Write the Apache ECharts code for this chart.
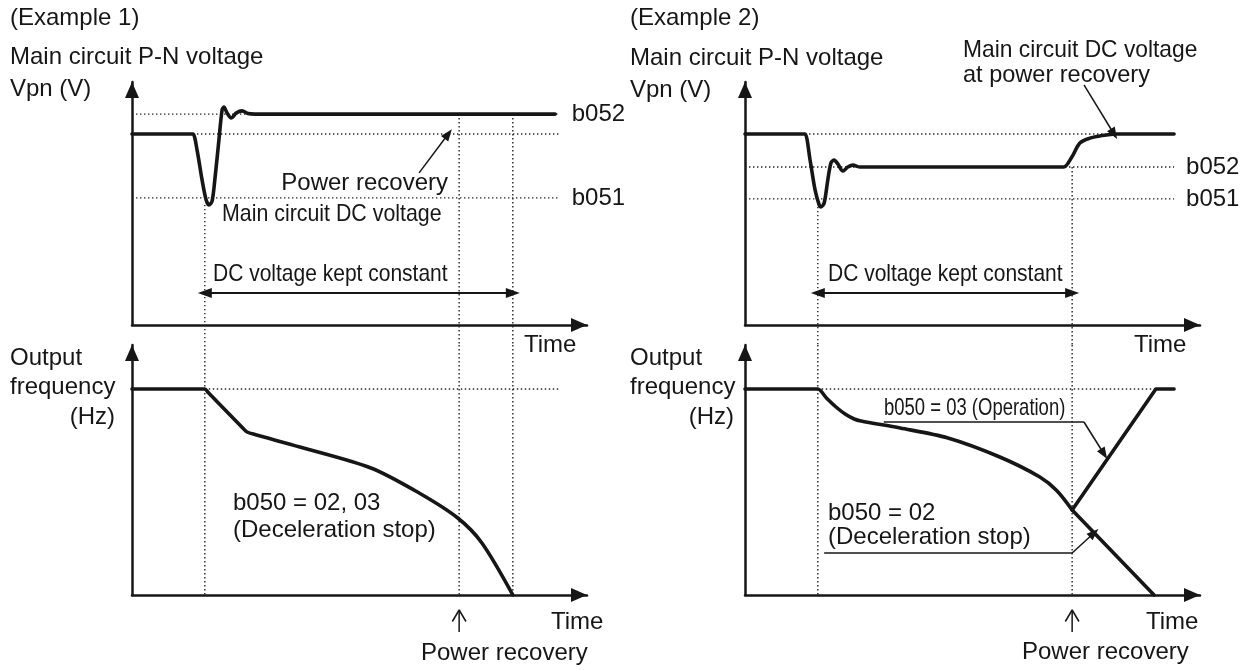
<!DOCTYPE html>
<html>
<head>
<meta charset="utf-8">
<script src="https://cdn.jsdelivr.net/npm/echarts@6/dist/echarts.min.js"></script>
<style>
  html, body { margin: 0; background: #fff; }
  #chart { width: 1247px; height: 670px; }
</style>
</head>
<body>
<div id="chart"></div>
<script>
const FONT = '"Liberation Sans", Arial, Helvetica, sans-serif';
const INK = '#161616';

// every x axis is time 0..100, every y axis 0..100 (relative units)

// ---- Example 1 ----
const ex1Voltage = [[0,78.6],[12.8,78.6],[13.4,78.6],[14.3,72.0],[15.4,59.7],[16.3,51.4],[16.9,49.4],[17.6,51.0],[18.2,59.7],[19.1,76.1],[19.8,88.5],[20.2,89.7],[20.9,87.2],[21.8,85.2],[22.9,87.2],[24.2,88.1],[25.5,87.0],[27.0,86.8],[93,86.8]];
const ex1Freq = [[0,82.4],[15.4,82.4],[16,82.4],[16.8,80.9],[24.5,66.5],[25.3,65.2],[27,64.2],[36.9,59.2],[52.5,50.8],[63.1,40.8],[71.6,30.8],[76.9,20.8],[83.7,0]];
const ex1Levels = [86.8, 78.6, 52.3];
const ex1LevelStarts = [0, 13.4, 0];
const ex1LevelLabels = ['b052', '', 'b051'];
const ex1LevelEnd = 94;
const ex1FreqLevel = [82.4, 16, 94.1];          // value, from, to
const ex1Guides = [16, 71.9, 83.7];             // dotted verticals
const ex1GuideTops = [49.4, 86.8, 86.8];
const ex1Hold = [16, 83.7, 13.2];               // "kept constant" arrow: from, to, height
const ex1RecoveryPointer = [[63.1, 62.6], [69.5, 78.6]];
const ex1RecoveryTime = 71.9;

// ---- Example 2 ----
const ex2Voltage = [[0,78.6],[12.6,78.6],[13.2,78.6],[14.3,67.9],[15.4,55.6],[16.3,49.4],[16.7,48.6],[17.4,50.2],[18.2,59.7],[18.9,66.7],[19.6,67.9],[20.4,66.3],[21.5,63.4],[22.6,65.0],[23.7,65.8],[25.3,65.0],[27.5,65.0],[69.5,65.0],[70.1,65.0],[71.8,69.0],[73.6,74.9],[75.8,76.9],[78,77.8],[81.5,78.6],[82.5,78.6],[94.3,78.6]];
const ex2FreqDecel = [[0,82.4],[15.4,82.4],[16,82.4],[18,78.6],[20,75.2],[22,72.4],[24,70.4],[25.5,69.6],[34.1,66.8],[44.6,62.8],[56,55.2],[64.8,47.2],[68.5,41.8],[71.9,34]];
const ex2FreqStop = [[71.9,34],[89.9,0]];
const ex2FreqOperation = [[71.9,34],[90.3,82.4],[94.3,82.4]];
const ex2Levels = [78.6, 65.0, 51.9];
const ex2LevelStarts = [13.2, 0, 0];
const ex2LevelLabels = ['', 'b052', 'b051'];
const ex2LevelEnd = 94.3;
const ex2FreqLevel = [82.4, 16, 90.3];
const ex2Guides = [16, 71.9];
const ex2GuideTops = [48.6, 65.0];
const ex2Hold = [16, 71.9, 13.2];
const ex2RecoveryPointer = [[74.5, 98.8], [81.1, 78.6]];
const ex2OperationLeader = [[30.5, 69.2], [74.5, 69.2], [78.9, 56.4]];
const ex2StopLeader = [[17.4, 16.8], [71.9, 16.8], [76.7, 24.8]];
const ex2RecoveryTime = 71.9;

const gapBelowTop = -8.2;            // top panel units down to the lower panel
const tickArrow = [-14.8, -6.0];     // small "power recovery" arrow under the time axis

function axis(i) {
  return {
    gridIndex: i, type: 'value', min: 0, max: 100,
    axisLine: {
      show: true, onZero: false,
      symbol: ['none', 'triangle'], symbolSize: [14, 16], symbolOffset: [0, -8],
      lineStyle: { color: INK, width: 2.5 }
    },
    axisTick: { show: false }, axisLabel: { show: false }, splitLine: { show: false }
  };
}

function curve(i, data, smooth, extra) {
  return Object.assign({
    type: 'line', xAxisIndex: i, yAxisIndex: i, data, smooth: smooth ? 0.3 : false,
    symbol: 'none', silent: true, clip: false, z: 3,
    lineStyle: { color: INK, width: 3.6, cap: 'round', join: 'round' }
  }, extra || {});
}

function dotted(i, data, label) {
  const s = {
    type: 'line', xAxisIndex: i, yAxisIndex: i, data, symbol: 'none', silent: true, clip: false, z: 1,
    lineStyle: { color: '#222', width: 1.4, type: [1.4, 2.6] }
  };
  if (label) {
    s.endLabel = { show: true, formatter: label, distance: 12, color: INK, fontSize: 24, fontFamily: FONT };
  }
  return s;
}

function thin(i, data) {
  return {
    type: 'line', xAxisIndex: i, yAxisIndex: i, data, symbol: 'none', silent: true, clip: false, z: 2,
    lineStyle: { color: INK, width: 1.5 }
  };
}

function arrowLine(from, to, size, width) {
  return [
    { coord: from, symbol: 'none', lineStyle: { width: width || 1.5 } },
    { coord: to, symbol: 'triangle', symbolSize: size || [9, 12] }
  ];
}

const series = [];

function panel(top, bottom, v) {
  // horizontal reference levels
  v.levels.forEach((lv, k) => {
    series.push(dotted(top, [[v.levelStarts[k], lv], [v.levelEnd, lv]], v.levelLabels[k]));
  });
  series.push(dotted(bottom, [[v.freqLevel[1], v.freqLevel[0]], [v.freqLevel[2], v.freqLevel[0]]]));
  // vertical guides through both panels
  v.guides.forEach((t, k) => {
    series.push(dotted(top, [[t, v.guideTops[k]], [t, gapBelowTop]]));
    series.push(dotted(bottom, [[t, 100], [t, 0]]));
  });
  // small arrow under the time axis
  const rt = v.recoveryTime;
  series.push(thin(bottom, [[rt, tickArrow[0]], [rt, tickArrow[1]]]));
  series.push(thin(bottom, [[rt - 1.5, tickArrow[1] - 4.6], [rt, tickArrow[1]], [rt + 1.5, tickArrow[1] - 4.6]]));
}

panel(0, 1, {
  levels: ex1Levels, levelStarts: ex1LevelStarts, levelLabels: ex1LevelLabels, levelEnd: ex1LevelEnd,
  freqLevel: ex1FreqLevel, guides: ex1Guides, guideTops: ex1GuideTops, recoveryTime: ex1RecoveryTime
});
panel(2, 3, {
  levels: ex2Levels, levelStarts: ex2LevelStarts, levelLabels: ex2LevelLabels, levelEnd: ex2LevelEnd,
  freqLevel: ex2FreqLevel, guides: ex2Guides, guideTops: ex2GuideTops, recoveryTime: ex2RecoveryTime
});

const markBase = { silent: true, animation: false, label: { show: false }, emphasis: { disabled: true },
  lineStyle: { color: INK, type: 'solid', width: 1.5 } };

series.push(curve(0, ex1Voltage, true, {
  markLine: Object.assign({}, markBase, {
    data: [
      arrowLine(ex1RecoveryPointer[0], ex1RecoveryPointer[1]),
      [{ coord: [ex1Hold[0], ex1Hold[2]], symbol: 'triangle', symbolSize: [10, 14], lineStyle: { width: 2 } },
       { coord: [ex1Hold[1], ex1Hold[2]], symbol: 'triangle', symbolSize: [10, 14] }]
    ]
  })
}));
series.push(curve(1, ex1Freq, true));

series.push(curve(2, ex2Voltage, true, {
  markLine: Object.assign({}, markBase, {
    data: [
      arrowLine(ex2RecoveryPointer[0], ex2RecoveryPointer[1]),
      [{ coord: [ex2Hold[0], ex2Hold[2]], symbol: 'triangle', symbolSize: [10, 14], lineStyle: { width: 2 } },
       { coord: [ex2Hold[1], ex2Hold[2]], symbol: 'triangle', symbolSize: [10, 14] }]
    ]
  })
}));
series.push(curve(3, ex2FreqDecel, true, {
  markLine: Object.assign({}, markBase, {
    data: [
      [{ coord: ex2OperationLeader[0], symbol: 'none' }, { coord: ex2OperationLeader[1], symbol: 'none' }],
      arrowLine(ex2OperationLeader[1], ex2OperationLeader[2]),
      [{ coord: ex2StopLeader[0], symbol: 'none' }, { coord: ex2StopLeader[1], symbol: 'none' }],
      arrowLine(ex2StopLeader[1], ex2StopLeader[2])
    ]
  })
}));
series.push(curve(3, ex2FreqStop, false));
series.push(curve(3, ex2FreqOperation, false));

// text
function txt(x, y, text, align, sx) {
  return {
    type: 'text', x, y, silent: true, z: 10, scaleX: sx || 1,
    style: {
      text, fill: INK, font: '24px ' + FONT,
      align: align || 'left', verticalAlign: 'middle',
      textAlign: align || 'left', textVerticalAlign: 'middle'
    }
  };
}

const graphic = [
  txt(10, 18, '(Example 1)'),
  txt(10, 57, 'Main circuit P-N voltage'),
  txt(10, 89, 'Vpn (V)'),
  txt(630, 18, '(Example 2)'),
  txt(630, 58, 'Main circuit P-N voltage'),
  txt(630, 90, 'Vpn (V)'),
  txt(10, 358, 'Output'), txt(10, 387, 'frequency'), txt(115, 417, '(Hz)', 'right'),
  txt(630, 358, 'Output'), txt(630, 387, 'frequency'), txt(734, 417, '(Hz)', 'right'),
  txt(448, 183, 'Power recovery', 'right'),
  txt(222, 214, 'Main circuit DC voltage', 'left', 0.89),
  txt(213, 274, 'DC voltage kept constant', 'left', 0.875),
  txt(524, 345, 'Time'), txt(551, 622, 'Time'),
  txt(233, 503, 'b050 = 02, 03'), txt(233, 530, '(Deceleration stop)'),
  txt(421, 653, 'Power recovery'),
  txt(963, 50, 'Main circuit DC voltage', 'left', 0.95), txt(963, 75, 'at power recovery', 'left', 0.98),
  txt(828, 274, 'DC voltage kept constant', 'left', 0.875),
  txt(1134, 345, 'Time'), txt(1146, 622, 'Time'),
  txt(884, 408, 'b050 = 03 (Operation)', 'left', 0.77),
  txt(828, 513, 'b050 = 02'), txt(828, 537, '(Deceleration stop)'),
  txt(1022, 652, 'Power recovery')
];

const chart = echarts.init(document.getElementById('chart'));
chart.setOption({
  animation: false,
  backgroundColor: '#fff',
  grid: [
    { left: 132, top: 82, width: 455, height: 243, outerBoundsMode: 'none' },
    { left: 132, top: 345, width: 455, height: 250, outerBoundsMode: 'none' },
    { left: 745, top: 82, width: 455, height: 243, outerBoundsMode: 'none' },
    { left: 745, top: 345, width: 455, height: 250, outerBoundsMode: 'none' }
  ],
  xAxis: [0, 1, 2, 3].map(axis),
  yAxis: [0, 1, 2, 3].map(axis),
  series,
  graphic
});
</script>
</body>
</html>
